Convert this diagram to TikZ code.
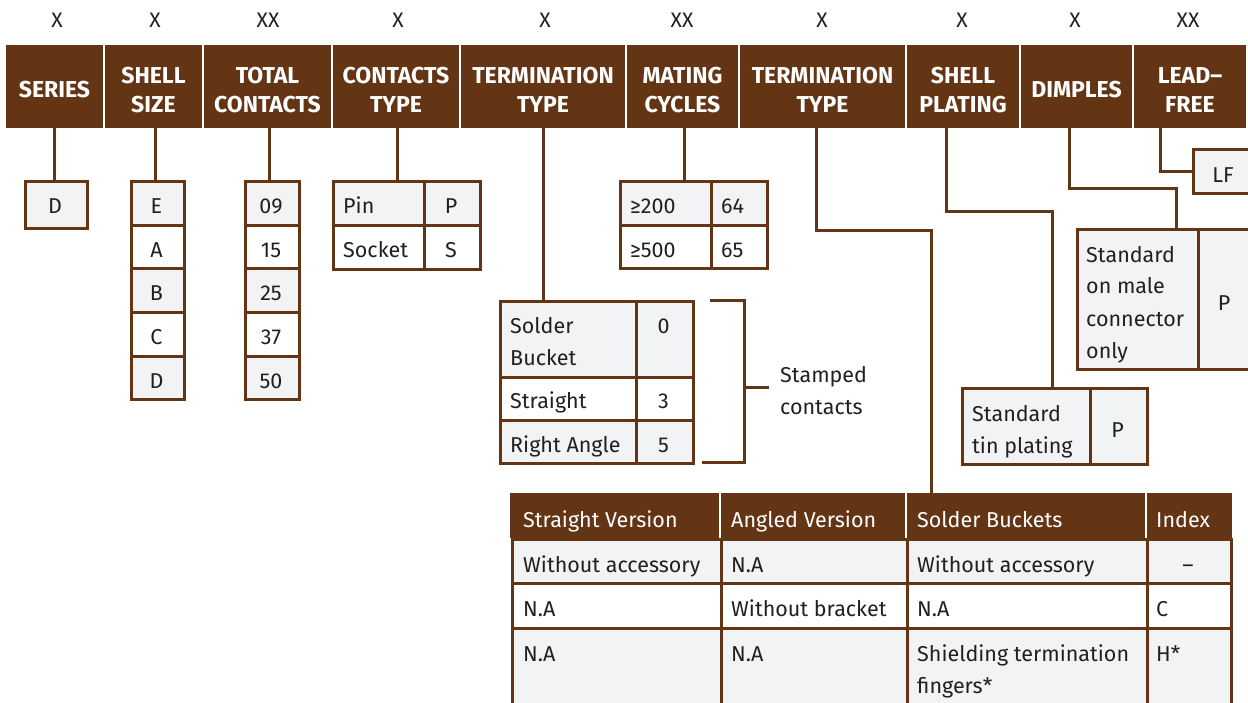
\documentclass[tikz,border=0pt]{standalone}
\usepackage{fontspec}
\setmainfont{Fira Sans}
\definecolor{br}{RGB}{100,53,21}
\definecolor{cg}{RGB}{242,243,244}
\definecolor{tx}{RGB}{35,31,32}
\tikzset{
  hdr/.style={fill=br, inner sep=0pt},
  htxt/.style={text=white, font=\fontsize{23}{29}\selectfont\bfseries, align=center, inner sep=0pt},
  cellbox/.style={draw=br, line width=3pt, inner sep=0pt, anchor=north west},
  thdr/.style={fill=br, inner sep=0pt, anchor=north west},
  conn/.style={draw=br, line width=3pt},
  txt/.style={text=tx, font=\fontsize{21.5}{32}\selectfont, inner sep=0pt, anchor=base west},
  txtc/.style={txt, anchor=base},
  wtxt/.style={txt, text=white},
  xl/.style={text=tx, font=\fontsize{21}{24}\selectfont, inner sep=0pt, anchor=base}
}
\newcommand\hdrbox[4]{\node[hdr, minimum width={(#3-#2)*1pt}, minimum height=83pt] (#1) at ({(#2+#3)/2},86.5) {};
  \node[htxt] (#1t) at ([yshift=-3.5pt]#1.center) {#4};}
\newcommand\cellb[6]{\node[cellbox, fill=#6, minimum width={(#4-#2)*1pt}, minimum height={(#5-#3)*1pt}] (#1) at (#2,#3) {};}
\newcommand\thcell[5]{\node[thdr, minimum width={(#3-#2)*1pt}, minimum height={(#5-#4)*1pt}] (#1) at (#2,#4) {};}
\begin{document}
\begin{tikzpicture}[x=1pt,y=-1pt]
\clip (0,0) rectangle (1248,702);
\fill[white] (0,0) rectangle (1248,702);
% X labels
\node[xl] (x1) at (57,27) {X};
\node[xl] (x2) at (155,27) {X};
\node[xl] (x3) at (268,27) {XX};
\node[xl] (x4) at (398,27) {X};
\node[xl] (x5) at (545,27) {X};
\node[xl] (x6) at (682,27) {XX};
\node[xl] (x7) at (822,27) {X};
\node[xl] (x8) at (962,27) {X};
\node[xl] (x9) at (1075,27) {X};
\node[xl] (x10) at (1188,27) {XX};
% headers
\hdrbox{h1}{6}{103}{SERIES}
\hdrbox{h2}{105}{202}{SHELL\\SIZE}
\hdrbox{h3}{204}{331}{TOTAL\\CONTACTS}
\hdrbox{h4}{333}{459}{CONTACTS\\TYPE}
\hdrbox{h5}{461}{625}{TERMINATION\\TYPE}
\hdrbox{h6}{627}{738}{MATING\\CYCLES}
\hdrbox{h7}{740}{905}{TERMINATION\\TYPE}
\hdrbox{h8}{907}{1019}{SHELL\\PLATING}
\hdrbox{h9}{1021}{1132}{DIMPLES}
\hdrbox{h10}{1134}{1246}{LEAD–\\FREE}
% series
\cellb{s1}{24}{180}{86}{227}{cg}
\node[txtc] (ts1) at (55,213) {D};
% shell size
\cellb{e1}{130}{180}{183}{224}{cg}
\cellb{e2}{130}{224}{183}{267}{white}
\cellb{e3}{130}{267}{183}{311}{cg}
\cellb{e4}{130}{311}{183}{355}{white}
\cellb{e5}{130}{355}{183}{398}{cg}
\node[txtc] (te1) at (156.5,213) {E};
\node[txtc] (te2) at (156.5,257) {A};
\node[txtc] (te3) at (156.5,300) {B};
\node[txtc] (te4) at (156.5,344) {C};
\node[txtc] (te5) at (156.5,388) {D};
% total contacts
\cellb{c1}{244}{180}{298}{224}{cg}
\cellb{c2}{244}{224}{298}{267}{white}
\cellb{c3}{244}{267}{298}{311}{cg}
\cellb{c4}{244}{311}{298}{355}{white}
\cellb{c5}{244}{355}{298}{398}{cg}
\node[txtc] (tc1) at (271,213) {09};
\node[txtc] (tc2) at (271,257) {15};
\node[txtc] (tc3) at (271,300) {25};
\node[txtc] (tc4) at (271,344) {37};
\node[txtc] (tc5) at (271,388) {50};
% contacts type
\cellb{p1}{332}{180}{423}{224}{cg}
\cellb{p2}{423}{180}{479}{224}{cg}
\cellb{p3}{332}{224}{423}{268}{white}
\cellb{p4}{423}{224}{479}{268}{white}
\node[txt] (tp1) at (343,213) {Pin};
\node[txtc] (tp2) at (451,213) {P};
\node[txt] (tp3) at (343,257) {Socket};
\node[txtc] (tp4) at (451,257) {S};
% mating cycles
\cellb{m1}{619}{180}{710}{224}{cg}
\cellb{m2}{710}{180}{766}{224}{cg}
\cellb{m3}{619}{224}{710}{267}{white}
\cellb{m4}{710}{224}{766}{267}{white}
\node[txt] (tm1) at (630,213) {≥200};
\node[txt] (tm2) at (721,213) {64};
\node[txt] (tm3) at (630,257) {≥500};
\node[txt] (tm4) at (721,257) {65};
% termination type
\cellb{r1}{499}{300}{635}{376}{cg}
\cellb{r2}{635}{300}{692}{376}{cg}
\cellb{r3}{499}{376}{635}{419}{white}
\cellb{r4}{635}{376}{692}{419}{white}
\cellb{r5}{499}{419}{635}{462}{cg}
\cellb{r6}{635}{419}{692}{462}{cg}
\node[txt] (tr1) at (510,333) {Solder};
\node[txt] (tr1b) at (510,365) {Bucket};
\node[txtc] (tr2) at (663.5,333) {0};
\node[txt] (tr3) at (510,408) {Straight};
\node[txtc] (tr4) at (663.5,408) {3};
\node[txt] (tr5) at (510,452) {Right Angle};
\node[txtc] (tr6) at (663.5,452) {5};
% bracket
\coordinate (b1) at (710,300);
\coordinate (b2) at (744,300);
\coordinate (b3) at (744,462);
\coordinate (b4) at (702,462);
\coordinate (b5) at (744,387);
\coordinate (b6) at (769,387);
\draw[conn] (b1) -- (b2) -- (b3) -- (b4);
\draw[conn] (b5) -- (b6);
\node[txt] (st1) at (780,382) {Stamped};
\node[txt] (st2) at (780,414) {contacts};
% lead free
\cellb{lf}{1192}{148}{1262}{192}{cg}
\node[txtc] (tlf) at (1223,182) {LF};
% dimples
\cellb{d1}{1076}{228}{1197}{368}{cg}
\cellb{d2}{1197}{228}{1262}{368}{cg}
\node[txt] (td1) at (1086,262) {Standard};
\node[txt] (td2) at (1086,293) {on male};
\node[txt] (td3) at (1086,326) {connector};
\node[txt] (td4) at (1086,358) {only};
\node[txtc] (td5) at (1224,310) {P};
% shell plating
\cellb{sp1}{961}{387}{1089}{463}{cg}
\cellb{sp2}{1089}{387}{1146}{463}{cg}
\node[txt] (tsp1) at (972,421) {Standard};
\node[txt] (tsp2) at (972,453) {tin plating};
\node[txtc] (tsp3) at (1117.5,437) {P};
% bottom table
\thcell{bh1}{509.5}{719}{493}{538}
\thcell{bh2}{721}{905}{493}{538}
\thcell{bh3}{907}{1145}{493}{538}
\thcell{bh4}{1147}{1231.5}{493}{538}
\node[wtxt] (tbh1) at (523,527) {Straight Version};
\node[wtxt] (tbh2) at (731,527) {Angled Version};
\node[wtxt] (tbh3) at (917,527) {Solder Buckets};
\node[wtxt] (tbh4) at (1156,527) {Index};
\cellb{q11}{511}{538}{720}{582}{cg}
\cellb{q12}{720}{538}{906}{582}{cg}
\cellb{q13}{906}{538}{1146}{582}{cg}
\cellb{q14}{1146}{538}{1230}{582}{cg}
\cellb{q21}{511}{582}{720}{627}{white}
\cellb{q22}{720}{582}{906}{627}{white}
\cellb{q23}{906}{582}{1146}{627}{white}
\cellb{q24}{1146}{582}{1230}{627}{white}
\cellb{q31}{511}{627}{720}{712}{cg}
\cellb{q32}{720}{627}{906}{712}{cg}
\cellb{q33}{906}{627}{1146}{712}{cg}
\cellb{q34}{1146}{627}{1230}{712}{cg}
\node[txt] (u11) at (523,572) {Without accessory};
\node[txt] (u12) at (731,572) {N.A};
\node[txt] (u13) at (917,572) {Without accessory};
\node[txtc] (u14) at (1188,572) {–};
\node[txt] (u21) at (523,616) {N.A};
\node[txt] (u22) at (731,616) {Without bracket};
\node[txt] (u23) at (917,616) {N.A};
\node[txt] (u24) at (1156,616) {C};
\node[txt] (u31) at (523,661) {N.A};
\node[txt] (u32) at (731,661) {N.A};
\node[txt] (u33) at (917,661) {Shielding termination};
\node[txt] (u33b) at (917,693) {fingers*};
\node[txt] (u34) at (1156,661) {H*};
% connectors
\draw[conn] (h1.south) -- (h1.south |- s1.north);
\draw[conn] ([xshift=1.5pt]h2.south) -- ([xshift=1.5pt]h2.south |- e1.north);
\draw[conn] ([xshift=1.5pt]h3.south) -- ([xshift=1.5pt]h3.south |- c1.north);
\draw[conn] ([xshift=1pt]h4.south) -- ([xshift=1pt]h4.south |- p1.north);
\draw[conn] (h5.south) -- (h5.south |- r1.north);
\draw[conn] ([xshift=1.5pt]h6.south) -- ([xshift=1.5pt]h6.south |- m1.north);
\coordinate (k7) at (931,230);
\draw[conn] ([xshift=-6.5pt]h7.south) |- (k7) -- (k7 |- bh3.north);
\coordinate (k8) at (1052,211);
\draw[conn] ([xshift=-17pt]h8.south) |- (k8) -- (k8 |- sp1.north);
\coordinate (k9) at (1176,188);
\draw[conn] ([xshift=-7.5pt]h9.south) |- (k9) -- (k9 |- d1.north);
\draw[conn] ([xshift=-30pt]h10.south) |- (lf.west);
\end{tikzpicture}
\end{document}
